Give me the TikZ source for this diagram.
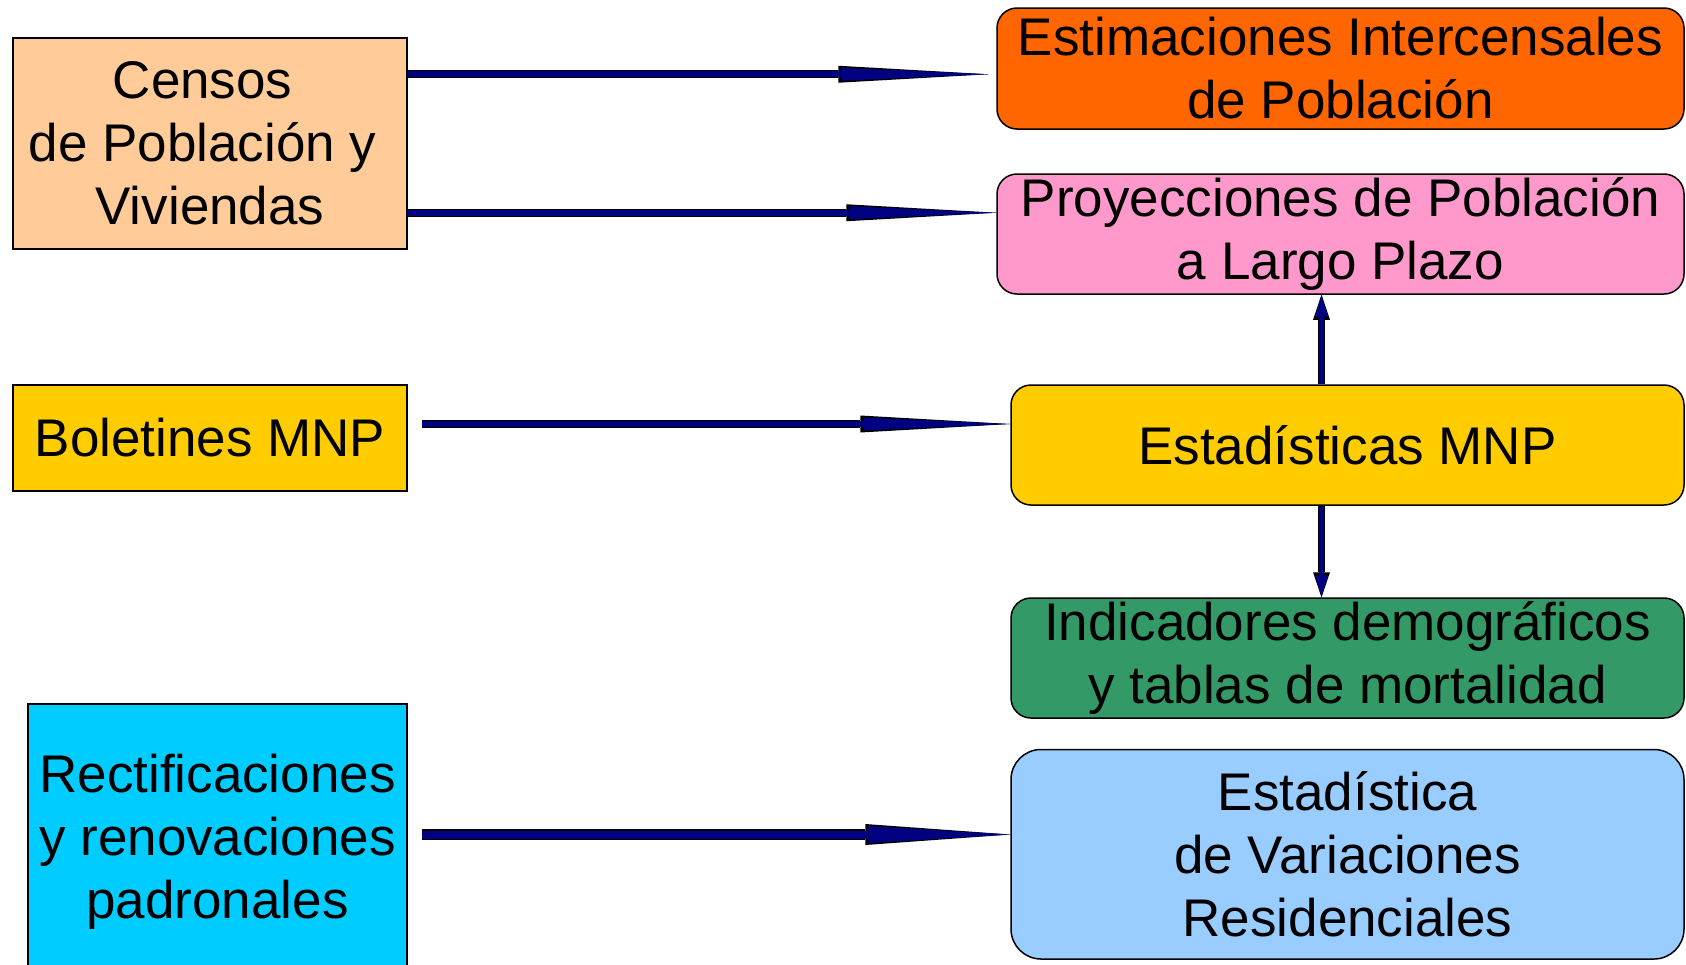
\documentclass[tikz,border=0pt]{standalone}
\usepackage{fontspec}
\setmainfont{Liberation Sans}
\usepackage{xcolor}
\usetikzlibrary{arrows.meta}

\definecolor{marino}{HTML}{000080}
\definecolor{melocoton}{HTML}{FFCC99}
\definecolor{oro}{HTML}{FFCC00}
\definecolor{celeste}{HTML}{00CCFF}
\definecolor{naranja}{HTML}{FF6600}
\definecolor{rosa}{HTML}{FF99CC}
\definecolor{verde}{HTML}{339966}
\definecolor{azulclaro}{HTML}{99CCFF}

\tikzset{
  caja/.style={draw=black, line width=0.75pt, inner sep=0pt, align=center,
    font=\fontsize{26.5}{31.5}\selectfont},
  cajar/.style={caja, rounded corners=10pt},
  flecha/.style={draw=marino, line width=2.8pt, -{Triangle[length=73.5pt, width=6.5pt, line width=0pt]},
    preaction={draw=black, line width=4pt, -{Triangle[length=75pt, width=8.5pt, line width=0pt]}}},
  flechag/.style={draw=marino, line width=4pt, -{Triangle[length=71pt, width=8.5pt, line width=0pt]},
    preaction={draw=black, line width=5.5pt, -{Triangle[length=72.5pt, width=10.5pt, line width=0pt]}}},
  flechav/.style={draw=marino, line width=2.8pt, -{Triangle[length=11pt, width=6.5pt, line width=0pt]},
    preaction={draw=black, line width=3.8pt, -{Triangle[length=12.5pt, width=8.5pt, line width=0pt]}}}
}

\begin{document}
\begin{tikzpicture}[x=0.5pt, y=-0.5pt]
    \useasboundingbox (0,0) rectangle (1686,964);
    % fuentes
    \node (censos) [caja, fill=melocoton, minimum width=197pt, minimum height=105.5pt] at (210,143.5)
        {Censos\hspace{7.4pt}\mbox{}\\de Población y\hspace{7.4pt}\mbox{}\\Viviendas};
    \node (bolet) [caja, fill=oro, minimum width=197pt, minimum height=53pt] at (210,438)
        {Boletines MNP};
    \node (rect) [caja, fill=celeste, minimum width=189.5pt, minimum height=138pt] at (217.5,842)
        {Rectificaciones\\y renovaciones\\padronales};
    % productos
    \node (estim) [cajar, fill=naranja, minimum width=343.5pt, minimum height=60.5pt] at (1340.5,68.5)
        {Estimaciones Intercensales\\de Población};
    \node (proy) [cajar, fill=rosa, minimum width=343.5pt, minimum height=60pt] at (1340.5,234)
        {Proyecciones de Población\\a Largo Plazo};
    \node (estad) [cajar, fill=oro, minimum width=336.5pt, minimum height=60pt] at (1347.5,445)
        {Estadísticas MNP};
    \node (indic) [cajar, fill=verde, minimum width=336.5pt, minimum height=60pt] at (1347.5,658)
        {Indicadores demográficos\\y tablas de mortalidad};
    \node (estvar) [cajar, rounded corners=15pt, fill=azulclaro, minimum width=336.5pt, minimum height=104.75pt] at (1347.5,854.25)
        {Estadística\\de Variaciones\\Residenciales};
    % flechas
    \coordinate (a1) at ([yshift=-18.5pt]censos.north east);
    \coordinate (a2) at ([yshift=18.5pt]censos.south east);
    \coordinate (a3) at ([xshift=7pt, yshift=7pt]bolet.east);
    \coordinate (a4) at ([xshift=7pt, yshift=3.75pt]rect.east);
    \coordinate (a5) at ([xshift=-13pt]estad.north);
    \coordinate (a6) at ([xshift=-13pt]estad.south);
    \draw[flecha, shorten >=4pt] (a1) -- (a1 -| estim.west);
    \draw[flecha] (a2) -- (a2 -| proy.west);
    \draw[flecha] (a3) -- (a3 -| estad.west);
    \draw[flechag] (a4) -- (a4 -| estvar.west);
    \draw[flechav] (a5) -- (a5 |- proy.south);
    \draw[flechav] (a6) -- (a6 |- indic.north);
\end{tikzpicture}
\end{document}
